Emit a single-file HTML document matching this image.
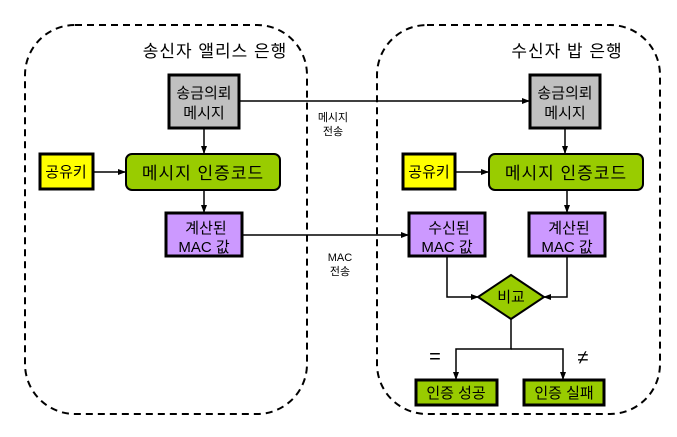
<!DOCTYPE html>
<html><head><meta charset="utf-8"><style>
body{margin:0;background:#fff}
svg text{font-family:"Liberation Sans","Noto Sans CJK KR",sans-serif;fill:#000}
</style></head><body>
<svg width="677" height="432" viewBox="0 0 677 432" xmlns="http://www.w3.org/2000/svg">
<defs><marker id="a" markerWidth="8" markerHeight="8" refX="7" refY="4" orient="auto" markerUnits="userSpaceOnUse"><path d="M0,1 L8,4 L0,7 Z" fill="#000"/></marker></defs>
<g fill="none" stroke="#000" stroke-width="2" stroke-dasharray="7,5">
<rect x="25" y="25" width="282" height="389" rx="50"/>
<rect x="377" y="25" width="283" height="389" rx="50"/>
</g>
<text x="215" y="57" font-size="17" letter-spacing="1" text-anchor="middle">송신자 앨리스 은행</text>
<text x="567" y="57" font-size="17" letter-spacing="1" text-anchor="middle">수신자 밥 은행</text>
<g stroke="#000" stroke-width="1.5" fill="none">
<line x1="239" y1="101" x2="529" y2="101" marker-end="url(#a)"/>
<line x1="204" y1="128" x2="204" y2="153" marker-end="url(#a)"/>
<line x1="93" y1="172" x2="125" y2="172" marker-end="url(#a)"/>
<line x1="204" y1="190" x2="204" y2="212" marker-end="url(#a)"/>
<line x1="242" y1="235" x2="408" y2="235" marker-end="url(#a)"/>
<line x1="565" y1="128" x2="565" y2="153" marker-end="url(#a)"/>
<line x1="455" y1="172" x2="488" y2="172" marker-end="url(#a)"/>
<line x1="567" y1="190" x2="567" y2="212" marker-end="url(#a)"/>
<polyline points="447,256 447,297 478,297" marker-end="url(#a)"/>
<polyline points="567,256 567,297 544,297" marker-end="url(#a)"/>
<polyline points="511,319 511,349 456,349 456,379" marker-end="url(#a)"/>
<polyline points="511,349 563,349 563,379" marker-end="url(#a)"/>
</g>
<text x="333" y="121" font-size="11" text-anchor="middle">메시지</text>
<text x="333" y="135" font-size="11" text-anchor="middle">전송</text>
<text x="340" y="261" font-size="11" text-anchor="middle">MAC</text>
<text x="340" y="275" font-size="11" text-anchor="middle">전송</text>
<g stroke="#000" stroke-width="3">
<rect x="169" y="75" width="70" height="53" fill="#c0c0c0"/>
<rect x="530" y="75" width="70" height="53" fill="#c0c0c0"/>
<rect x="40" y="154" width="53" height="35" fill="#ffff00"/>
<rect x="403" y="154" width="52" height="35" fill="#ffff00"/>
<rect x="126" y="154" width="154" height="36" rx="6" fill="#99cc00" stroke-width="2"/>
<rect x="489" y="154" width="154" height="36" rx="6" fill="#99cc00" stroke-width="2"/>
<rect x="166" y="213" width="76" height="43" fill="#cc99ff"/>
<rect x="409" y="213" width="76" height="43" fill="#cc99ff"/>
<rect x="529" y="213" width="76" height="43" fill="#cc99ff"/>
<rect x="416" y="380" width="81" height="25" fill="#99cc00"/>
<rect x="524" y="380" width="80" height="25" fill="#99cc00"/>
<polygon points="511,275 544,297 511,319 478,297" fill="#99cc00" stroke-width="2"/>
</g>
<g font-size="15" text-anchor="middle">
<text x="204" y="98">송금의뢰</text><text x="204" y="118">메시지</text>
<text x="565" y="98">송금의뢰</text><text x="565" y="118">메시지</text>
<text x="66" y="177">공유키</text><text x="429" y="177">공유키</text>
<text x="203" y="179" font-size="17" letter-spacing="1">메시지 인증코드</text>
<text x="566" y="179" font-size="17" letter-spacing="1">메시지 인증코드</text>
<text x="206" y="233">계산된</text><text x="204" y="252">MAC 값</text>
<text x="449" y="233">수신된</text><text x="447" y="252">MAC 값</text>
<text x="569" y="233">계산된</text><text x="567" y="252">MAC 값</text>
<text x="511" y="302">비교</text>
<text x="456" y="398">인증 성공</text>
<text x="564" y="398">인증 실패</text>
<text x="435" y="363" font-size="20">=</text>
<text x="583" y="364" font-size="20">≠</text>
</g>
</svg>
</body></html>
